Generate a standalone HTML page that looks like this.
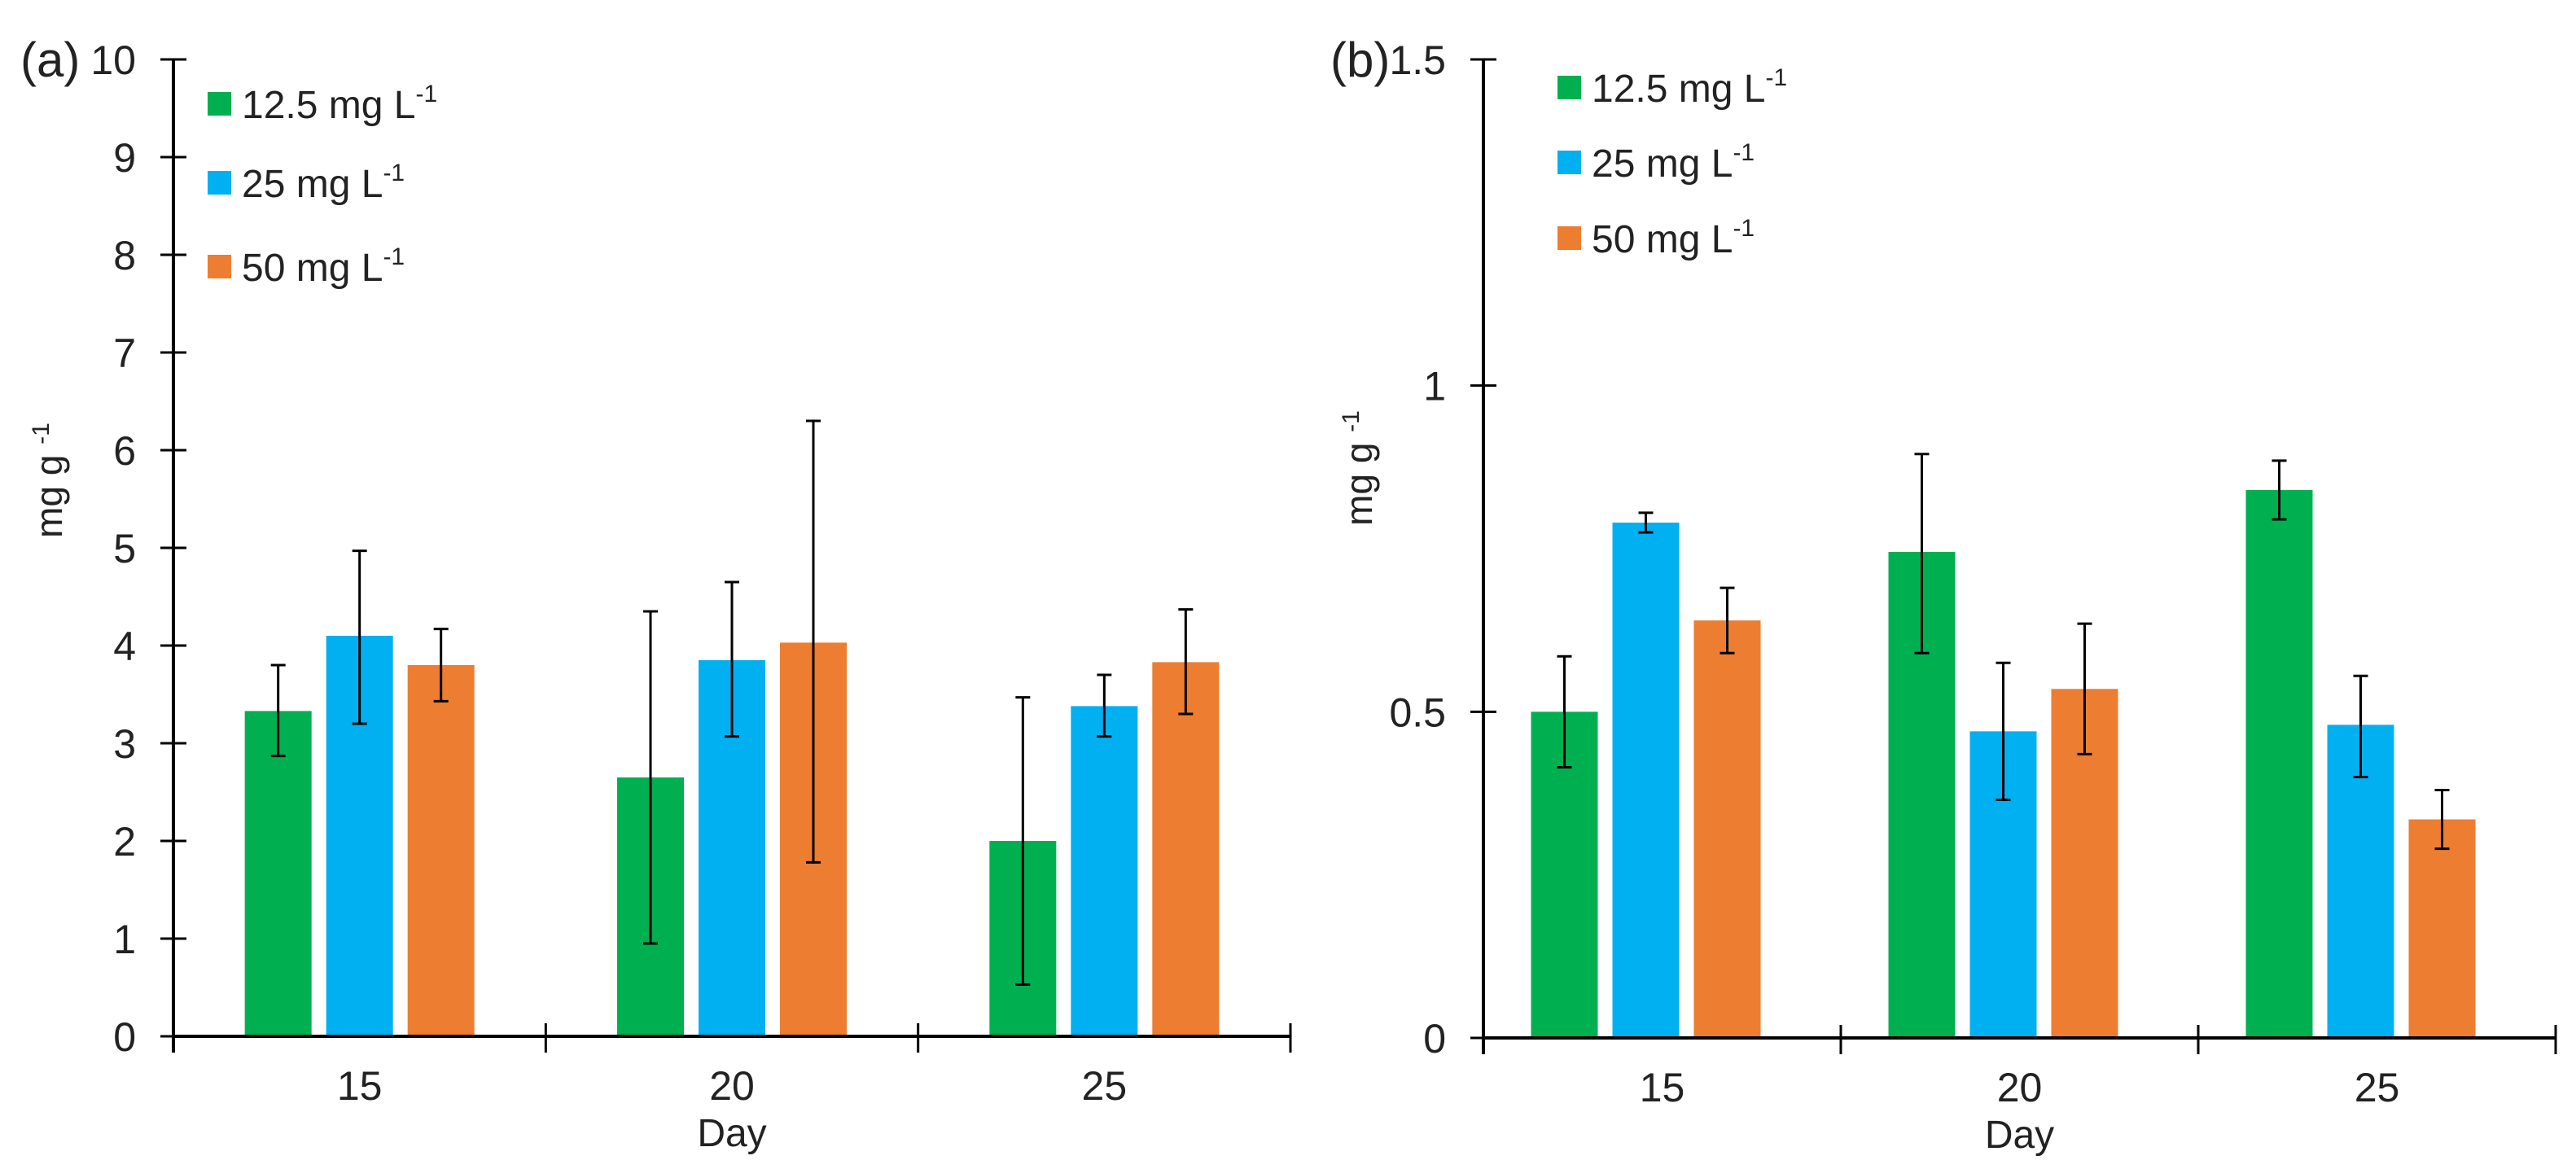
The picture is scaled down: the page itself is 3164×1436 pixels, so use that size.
<!DOCTYPE html>
<html><head><meta charset="utf-8"><style>
html,body{margin:0;padding:0;background:#fff}
svg{display:block}
text{font-family:"Liberation Sans",Arial,sans-serif;fill:#222}
</style></head><body>
<svg id="chart" width="3164" height="1436" viewBox="0 0 3164 1436"></svg>
<script>
const categories=["15","20","25"];
const seriesNames=["12.5 mg L","25 mg L","50 mg L"];
const colors=["#00b050","#00b0f0","#ed7d31"];
const aVals=[[3.33,2.65,2.0],[4.1,3.85,3.38],[3.8,4.03,3.83]];
const aLow=[[2.87,0.95,0.53],[3.2,3.07,3.07],[3.43,1.78,3.3]];
const aHigh=[[3.8,4.35,3.47],[4.97,4.65,3.7],[4.17,6.3,4.37]];
const aTicks=[0,1,2,3,4,5,6,7,8,9,10];
const bVals=[[0.5,0.745,0.84],[0.79,0.47,0.48],[0.64,0.535,0.335]];
const bLow=[[0.415,0.59,0.795],[0.775,0.365,0.4],[0.59,0.435,0.29]];
const bHigh=[[0.585,0.895,0.885],[0.805,0.575,0.555],[0.69,0.635,0.38]];
const bTicks=[0,0.5,1,1.5];
const bTickLabels=["0","0.5","1","1.5"];

const NS="http://www.w3.org/2000/svg";
const svg=document.getElementById('chart');
function mk(tag,attrs,parent,txt){const e=document.createElementNS(NS,tag);for(const k in attrs)e.setAttribute(k,attrs[k]);if(txt!==undefined)e.textContent=txt;(parent||svg).appendChild(e);return e;}

function panel(p){
  const g=mk('g',{});
  
  
  const y=v=>p.y0-(v/p.max)*(p.y0-p.yTop);
  const gw=(p.xEnd-p.x0)/categories.length;
  const cx=i=>p.x0+gw*(i+0.5);
  for(let s=0;s<3;s++){
    for(let c=0;c<categories.length;c++){
      const bx=cx(c)+p.barOff+(s-1)*100-41;
      const r=mk('rect',{x:bx,y:y(p.vals[s][c]),width:82,height:p.y0-y(p.vals[s][c]),fill:colors[s]},g);
      
      
      const ex=bx+41;
      const e=mk('path',{d:`M${ex},${y(p.low[s][c])}V${y(p.high[s][c])}M${ex-9},${y(p.low[s][c])}h18M${ex-9},${y(p.high[s][c])}h18`,stroke:'#000','stroke-width':3,fill:'none'},g);
      
      
    }
  }
  const ya=mk('line',{x1:p.x0,y1:p.yTop,x2:p.x0,y2:p.y0+20,stroke:'#000','stroke-width':4},g);
  
  
  const xa=mk('line',{x1:p.x0,y1:p.y0,x2:p.xEnd,y2:p.y0,stroke:'#000','stroke-width':4},g);
  
  
  p.ticks.forEach((t,i)=>{
    mk('line',{x1:p.x0-16,y1:y(t),x2:p.x0+16,y2:y(t),stroke:'#000','stroke-width':3},g);
    const tl=mk('text',{x:p.x0-46,y:y(t)+18,'text-anchor':'end','font-size':50},g,p.tickLabels[i]);
    
    
  });
  for(let c=0;c<=categories.length;c++){
    mk('line',{x1:p.x0+gw*c,y1:p.y0-16,x2:p.x0+gw*c,y2:p.y0+20,stroke:'#000','stroke-width':3},g);
  }
  categories.forEach((c,i)=>{
    const t=mk('text',{x:cx(i),y:p.y0+78,'text-anchor':'middle','font-size':50},g,c);
    
    
  });
  const xt=mk('text',{x:cx(1),y:p.y0+135,'text-anchor':'middle','font-size':48},g,'Day');
  
  
  const yt=mk('text',{x:0,y:0,'text-anchor':'middle','font-size':46,transform:`translate(${p.x0-137},${p.ylabY}) rotate(-90)`},g);
  
  
  yt.innerHTML='mg g <tspan dy="-16" font-size="30">-1</tspan>';
  const pl=mk('text',{x:p.x0-188,y:94,'font-size':60},g,p.label);
  
  
  for(let s=0;s<3;s++){
    const ly=p.legY[s];
    const sq=mk('rect',{x:p.legX,y:ly-15,width:29,height:29,fill:colors[s]},g);
    
    
    const lt=mk('text',{x:p.legX+42,y:ly+17,'font-size':48},g);
    
    
    lt.innerHTML=seriesNames[s]+'<tspan dy="-20" font-size="30">-1</tspan>';
  }
}
panel({id:'panel-a',label:'(a)',x0:213,xEnd:1585,y0:1273,yTop:73,max:10,vals:aVals,low:aLow,high:aHigh,ticks:aTicks,tickLabels:aTicks.map(String),legX:255,legY:[128,225,328],ylabY:590,barOff:0});
panel({id:'panel-b',label:'(b)',x0:1822,xEnd:3139,y0:1275,yTop:73,max:1.5,vals:bVals,low:bLow,high:bHigh,ticks:bTicks,tickLabels:bTickLabels,legX:1913,legY:[108,200,293],ylabY:575,barOff:-20});
</script>
</body></html>
